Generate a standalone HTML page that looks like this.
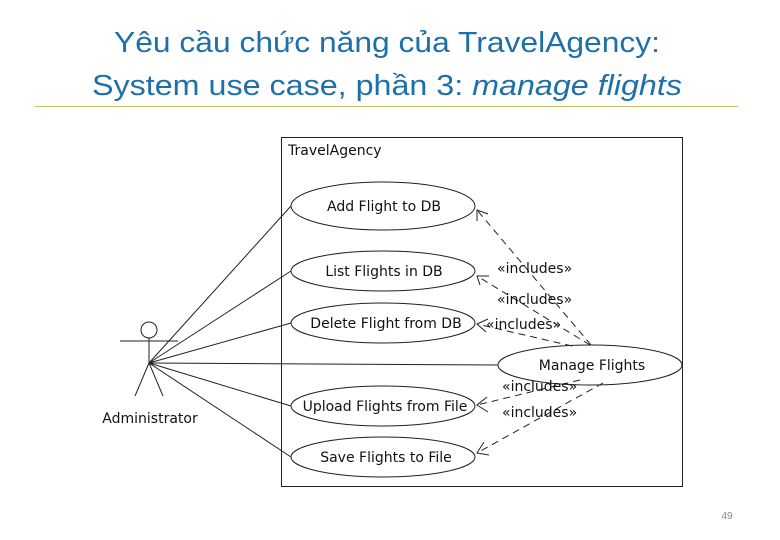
<!DOCTYPE html>
<html><head><meta charset="utf-8"><style>html,body{margin:0;padding:0;background:#fff}svg{display:block}</style></head>
<body>
<svg width="780" height="540" viewBox="0 0 780 540" xmlns="http://www.w3.org/2000/svg" font-family="'DejaVu Sans','Liberation Sans',sans-serif">
<g fill="#1d70a9" font-family="'Liberation Sans',sans-serif" font-size="29">
<text x="114" y="52" textLength="546" lengthAdjust="spacingAndGlyphs">Yêu cầu chức năng của TravelAgency:</text>
<text x="92" y="95" textLength="590" lengthAdjust="spacingAndGlyphs">System use case, phần 3: <tspan font-style="italic">manage flights</tspan></text>
</g>
<line x1="35" y1="106.5" x2="738" y2="106.5" stroke="#c8c060" stroke-width="1"/>
<text x="727" y="519" font-size="10" fill="#888" font-family="'Liberation Sans',sans-serif" text-anchor="middle">49</text>
<g stroke="#222" stroke-width="1" fill="none">
<rect x="281.5" y="137.5" width="401" height="349"/>
<ellipse cx="383" cy="206" rx="92" ry="24" fill="#fff"/>
<ellipse cx="383" cy="271" rx="92" ry="20" fill="#fff"/>
<ellipse cx="383" cy="323" rx="92" ry="20" fill="#fff"/>
<ellipse cx="590" cy="365" rx="92" ry="20" fill="#fff"/>
<ellipse cx="383" cy="406" rx="92" ry="20" fill="#fff"/>
<ellipse cx="383" cy="457" rx="92" ry="20" fill="#fff"/>
<circle cx="149" cy="330" r="8"/>
<line x1="120" y1="341" x2="178" y2="341"/>
<line x1="149" y1="338" x2="149" y2="363"/>
<line x1="149" y1="363" x2="135" y2="396"/>
<line x1="149" y1="363" x2="163" y2="396"/>
<line x1="149" y1="363" x2="291" y2="206"/>
<line x1="149" y1="363" x2="291" y2="271"/>
<line x1="149" y1="363" x2="291" y2="323"/>
<line x1="149" y1="363" x2="498" y2="365"/>
<line x1="149" y1="363" x2="291" y2="406"/>
<line x1="149" y1="363" x2="291" y2="457"/>
<g stroke-dasharray="7,5">
<line x1="591" y1="345" x2="477" y2="210"/>
<line x1="590" y1="345" x2="477" y2="276"/>
<line x1="572" y1="346" x2="477" y2="324"/>
<line x1="580" y1="380" x2="477" y2="405"/>
<line x1="603" y1="383" x2="477" y2="453"/>
</g>
<polyline points="477,221 477,210 488,214"/>
<polyline points="480,285 477,276 489,276"/>
<polyline points="486,332 477,324 488,319"/>
<polyline points="487,397 477,405 488,412"/>
<polyline points="484,442 477,453 489,455"/>
</g>
<g font-size="14" fill="#111" text-anchor="middle">
<text x="384" y="211">Add Flight to DB</text>
<text x="384" y="276">List Flights in DB</text>
<text x="386" y="328">Delete Flight from DB</text>
<text x="592" y="370">Manage Flights</text>
<text x="385" y="411">Upload Flights from File</text>
<text x="386" y="462">Save Flights to File</text>
<text x="150" y="423">Administrator</text>
</g>
<g font-size="14" fill="#111">
<text x="288" y="155">TravelAgency</text>
<text x="497" y="273">«includes»</text>
<text x="497" y="304">«includes»</text>
<text x="486" y="329">«includes»</text>
<text x="502" y="391">«includes»</text>
<text x="502" y="417">«includes»</text>
</g>
</svg>
</body></html>
